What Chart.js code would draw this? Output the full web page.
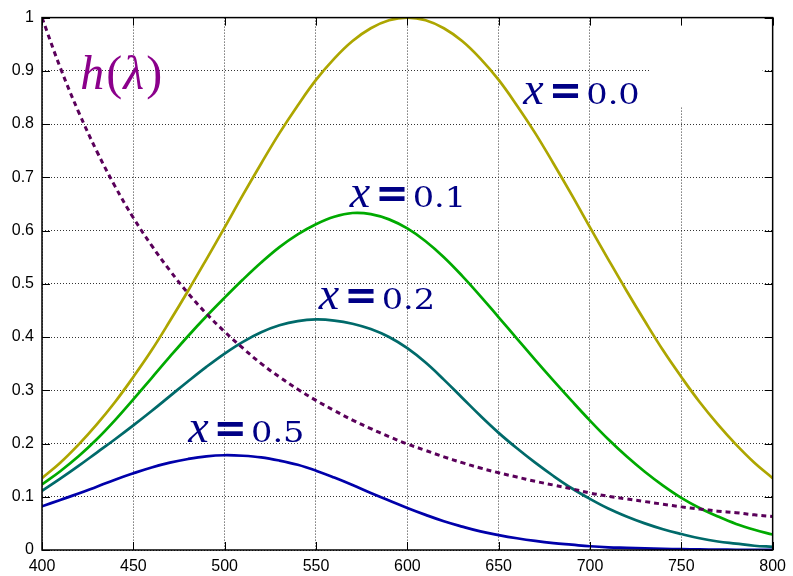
<!DOCTYPE html>
<html>
<head>
<meta charset="utf-8">
<script src="https://cdn.jsdelivr.net/npm/chart.js@4.4.1/dist/chart.umd.min.js"></script>
<style>
  html, body { margin: 0; padding: 0; background: #fff; }
  canvas { display: block; }
</style>
</head>
<body>
<canvas id="plot" width="793" height="576"></canvas>
<script>
'use strict';

// wavelength samples (nm), every 10 nm
const wavelengths = [400, 410, 420, 430, 440, 450, 460, 470, 480, 490, 500,
                     510, 520, 530, 540, 550, 560, 570, 580, 590, 600,
                     610, 620, 630, 640, 650, 660, 670, 680, 690, 700,
                     710, 720, 730, 740, 750, 760, 770, 780, 790, 800];

// curves for x = 0.0, 0.1, 0.2, 0.5
const curveX00 = [0.135, 0.164, 0.198, 0.236, 0.278, 0.325, 0.375, 0.430, 0.487, 0.546, 0.606,
                  0.667, 0.726, 0.783, 0.835, 0.883, 0.923, 0.956, 0.980, 0.995, 1.000,
                  0.995, 0.980, 0.956, 0.923, 0.883, 0.835, 0.783, 0.726, 0.667, 0.606,
                  0.546, 0.487, 0.430, 0.375, 0.325, 0.278, 0.236, 0.198, 0.164, 0.135];
const curveX01 = [0.123, 0.148, 0.176, 0.208, 0.244, 0.283, 0.323, 0.363, 0.402, 0.439, 0.474,
                  0.508, 0.540, 0.569, 0.593, 0.612, 0.626, 0.633, 0.631, 0.621, 0.604,
                  0.580, 0.550, 0.515, 0.477, 0.437, 0.397, 0.357, 0.318, 0.280, 0.243,
                  0.208, 0.176, 0.147, 0.121, 0.098, 0.079, 0.063, 0.049, 0.038, 0.029];
const curveX02 = [0.111, 0.134, 0.158, 0.183, 0.208, 0.234, 0.261, 0.289, 0.317, 0.344, 0.369,
                  0.391, 0.409, 0.422, 0.430, 0.433, 0.431, 0.425, 0.415, 0.400, 0.379,
                  0.352, 0.320, 0.286, 0.252, 0.220, 0.191, 0.164, 0.139, 0.116, 0.096,
                  0.078, 0.063, 0.050, 0.039, 0.030, 0.022, 0.016, 0.012, 0.008, 0.006];
const curveX05 = [0.082, 0.094, 0.106, 0.119, 0.132, 0.144, 0.155, 0.164, 0.171, 0.176, 0.178,
                  0.177, 0.174, 0.168, 0.160, 0.149, 0.136, 0.122, 0.107, 0.093, 0.079,
                  0.066, 0.054, 0.044, 0.035, 0.028, 0.022, 0.017, 0.013, 0.010, 0.007,
                  0.005, 0.004, 0.003, 0.002, 0.0015, 0.001, 0.0007, 0.0005, 0.0003, 0.0002];

// h(lambda), dotted
const hLambda = [1.000, 0.906, 0.823, 0.749, 0.683, 0.624, 0.572, 0.525, 0.482, 0.444, 0.410,
                 0.379, 0.350, 0.325, 0.302, 0.281, 0.262, 0.244, 0.228, 0.213, 0.199,
                 0.187, 0.175, 0.164, 0.154, 0.145, 0.137, 0.129, 0.122, 0.115, 0.107,
                 0.101, 0.096, 0.091, 0.086, 0.081, 0.077, 0.073, 0.070, 0.066, 0.063];

const xTicks = [400, 450, 500, 550, 600, 650, 700, 750, 800];
const yTicks = [0, 0.1, 0.2, 0.3, 0.4, 0.5, 0.6, 0.7, 0.8, 0.9, 1];

const toPoints = arr => wavelengths.map((w, i) => ({ x: w, y: arr[i] }));

const navy = '#000085';
const purple = '#8b008b';
const mathItalic = 'italic 46px "Liberation Serif"';
const eqFont = 'bold 40px "DejaVu Sans"';
const numFont = '28px "DejaVu Serif"';
const hFont = 'italic 48px "Liberation Serif"';
const parenFont = '48px "Liberation Serif"';

// curve labels, anchored in data coordinates (left edge, baseline);
// each part: text, font, colour, horizontal stretch, gap after
const xTag = n => [['x', mathItalic, navy, 1, 5], ['=', eqFont, navy, 1, 4], [n, numFont, navy, 1.2, 0]];
const tags = [
  { at: [663.5, 0.838], parts: xTag('0.0') },
  { at: [568.5, 0.644], parts: xTag('0.1') },
  { at: [551.5, 0.4525], parts: xTag('0.2') },
  { at: [480, 0.203],   parts: xTag('0.5') },
  { at: [421, 0.866],   parts: [['h', hFont, purple, 1, 2], ['(', parenFont, purple, 1, 1],
                                ['λ', hFont, purple, 1, 2], [')', parenFont, purple, 1, 0]] }
];

const framePlugin = {
  id: 'frame',
  beforeDatasetsDraw(chart) {
    // blank key area in the top right corner hides the grid there
    const { ctx, chartArea: a, scales: { x, y } } = chart;
    const x1 = x.getPixelForValue(733), x2 = x.getPixelForValue(794.5);
    ctx.save();
    ctx.fillStyle = '#fff';
    ctx.fillRect(x1, a.top + 1, x2 - x1, y.getPixelForValue(0.832) - a.top - 1);
    ctx.restore();
  },
  afterDatasetsDraw(chart) {
    const { ctx, chartArea: a, scales: { x, y } } = chart;
    ctx.save();

    // labels
    ctx.textBaseline = 'alphabetic';
    ctx.textAlign = 'left';
    tags.forEach(t => {
      let px = x.getPixelForValue(t.at[0]);
      const py = y.getPixelForValue(t.at[1]);
      t.parts.forEach(([txt, font, color, stretch, gap]) => {
        ctx.font = font;
        ctx.fillStyle = color;
        ctx.save();
        ctx.translate(px, py);
        ctx.scale(stretch, 1);
        ctx.fillText(txt, 0, 0);
        ctx.restore();
        px += ctx.measureText(txt).width * stretch + gap;
      });
    });

    // border and inward ticks on all four sides
    ctx.strokeStyle = '#000';
    ctx.lineWidth = 1.5;
    ctx.strokeRect(a.left, a.top, a.right - a.left, a.bottom - a.top);
    ctx.lineWidth = 1;
    ctx.beginPath();
    xTicks.forEach(v => {
      const px = Math.round(x.getPixelForValue(v)) + 0.5;
      ctx.moveTo(px, a.bottom); ctx.lineTo(px, a.bottom - 8);
      ctx.moveTo(px, a.top); ctx.lineTo(px, a.top + 8);
    });
    yTicks.forEach(v => {
      const py = Math.round(y.getPixelForValue(v)) + 0.5;
      ctx.moveTo(a.left, py); ctx.lineTo(a.left + 8, py);
      ctx.moveTo(a.right, py); ctx.lineTo(a.right - 8, py);
    });
    ctx.stroke();
    ctx.restore();
  }
};

const tickFont = { family: '"Liberation Sans", Arial, sans-serif', size: 16 };
const gridStyle = { color: '#333', lineWidth: 1, drawTicks: false };

new Chart(document.getElementById('plot'), {
  type: 'line',
  data: {
    datasets: [
      { label: 'h', data: toPoints(hLambda), borderColor: '#5a005a', borderWidth: 3, borderDash: [5, 4] },
      { label: 'x=0.0', data: toPoints(curveX00), borderColor: '#ada600' },
      { label: 'x=0.1', data: toPoints(curveX01), borderColor: '#00aa00' },
      { label: 'x=0.2', data: toPoints(curveX02), borderColor: '#006a6a' },
      { label: 'x=0.5', data: toPoints(curveX05), borderColor: '#0000aa' }
    ]
  },
  options: {
    responsive: false,
    animation: false,
    events: [],
    layout: { padding: { top: 13, right: 15, left: 0, bottom: 0 } },
    plugins: { legend: { display: false }, tooltip: { enabled: false } },
    elements: {
      point: { radius: 0 },
      line: { borderWidth: 2.7, tension: 0.4, fill: false }
    },
    scales: {
      x: {
        type: 'linear', min: 400, max: 800,
        afterBuildTicks: s => { s.ticks = xTicks.map(value => ({ value })); },
        afterFit: s => { s.height = 26; },
        ticks: { font: tickFont, color: '#000', padding: 7, maxRotation: 0, autoSkip: false,
                 callback: v => String(v) },
        grid: gridStyle,
        border: { display: false, dash: [1, 2] }
      },
      y: {
        type: 'linear', min: 0, max: 1,
        afterBuildTicks: s => { s.ticks = yTicks.map(value => ({ value })); },
        afterFit: s => { s.width = 42; },
        ticks: { font: tickFont, color: '#000', padding: 8, autoSkip: false,
                 callback: v => String(v) },
        grid: gridStyle,
        border: { display: false, dash: [1, 2] }
      }
    }
  },
  plugins: [framePlugin]
});
</script>
</body>
</html>
